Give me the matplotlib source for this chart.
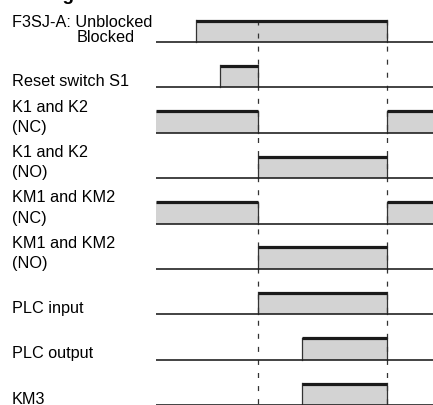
import matplotlib
matplotlib.use("Agg")
import matplotlib.pyplot as plt

plt.rcParams['font.family'] = ['Liberation Sans', 'DejaVu Sans']
plt.rcParams['lines.scale_dashes'] = False

# ---- data (time units) ----
t_start = 0
t_end = 277
signal_labels = [
    ["F3SJ-A: Unblocked", "Blocked"],
    ["Reset switch S1"],
    ["K1 and K2", "(NC)"],
    ["K1 and K2", "(NO)"],
    ["KM1 and KM2", "(NC)"],
    ["KM1 and KM2", "(NO)"],
    ["PLC input"],
    ["PLC output"],
    ["KM3"],
]
high_intervals = [
    [(40, 231)],
    [(64, 102)],
    [(0, 102), (231, 277)],
    [(102, 231)],
    [(0, 102), (231, 277)],
    [(102, 231)],
    [(102, 231)],
    [(146, 231)],
    [(146, 231)],
]
dashed_times = [102, 231]
title = "Timing Chart"

# ---- drawing ----
W, H = 433, 405
fig = plt.figure(figsize=(W / 100, H / 100), dpi=100)
ax = fig.add_axes([0, 0, 1, 1])
ax.set_xlim(-156, 277)
ax.set_ylim(H, 0)
ax.axis('off')

row0 = 42
row_step = (405 - 42) / 8
pulse_h = 22
fs = 11.7

gray = '#d3d3d3'
for i, (labels, ivals) in enumerate(zip(signal_labels, high_intervals)):
    base = row0 + i * row_step
    top = base - pulse_h
    for (a, b) in ivals:
        ax.fill_between([a, b], [base, base], [top, top], color=gray, lw=0, zorder=1)
        ax.plot([a, b], [top + 0.6, top + 0.6], color='#1a1a1a', lw=2.3,
                solid_capstyle='butt', zorder=4)
        for e in (a, b):
            if t_start < e < t_end:
                ax.plot([e, e], [base, top], color='#333333', lw=0.9, zorder=3)
    ax.plot([t_start, t_end], [base, base], color='#222222', lw=1.2,
            solid_capstyle='butt', zorder=4)
    # labels
    if len(labels) == 2:
        if i == 0:
            ax.text(-144, base - 15, labels[0], fontsize=fs, va='baseline', ha='left')
            ax.text(-79, base, labels[1], fontsize=fs, va='baseline', ha='left')
        else:
            ax.text(-144, base - 21, labels[0], fontsize=fs, va='baseline', ha='left')
            ax.text(-144, base - 1, labels[1], fontsize=fs, va='baseline', ha='left')
    else:
        ax.text(-144, base - 1.5, labels[0], fontsize=fs, va='baseline', ha='left')

top0 = row0 - pulse_h
for t in dashed_times:
    line, = ax.plot([t, t], [top0, H], color='#333333', lw=0.9, zorder=2)
    line.set_dashes([3.6, 5.8])

ax.text(-144, 0, title, fontsize=13.7, fontweight='bold', va='baseline', ha='left')

fig.savefig("out.png", dpi=100)
